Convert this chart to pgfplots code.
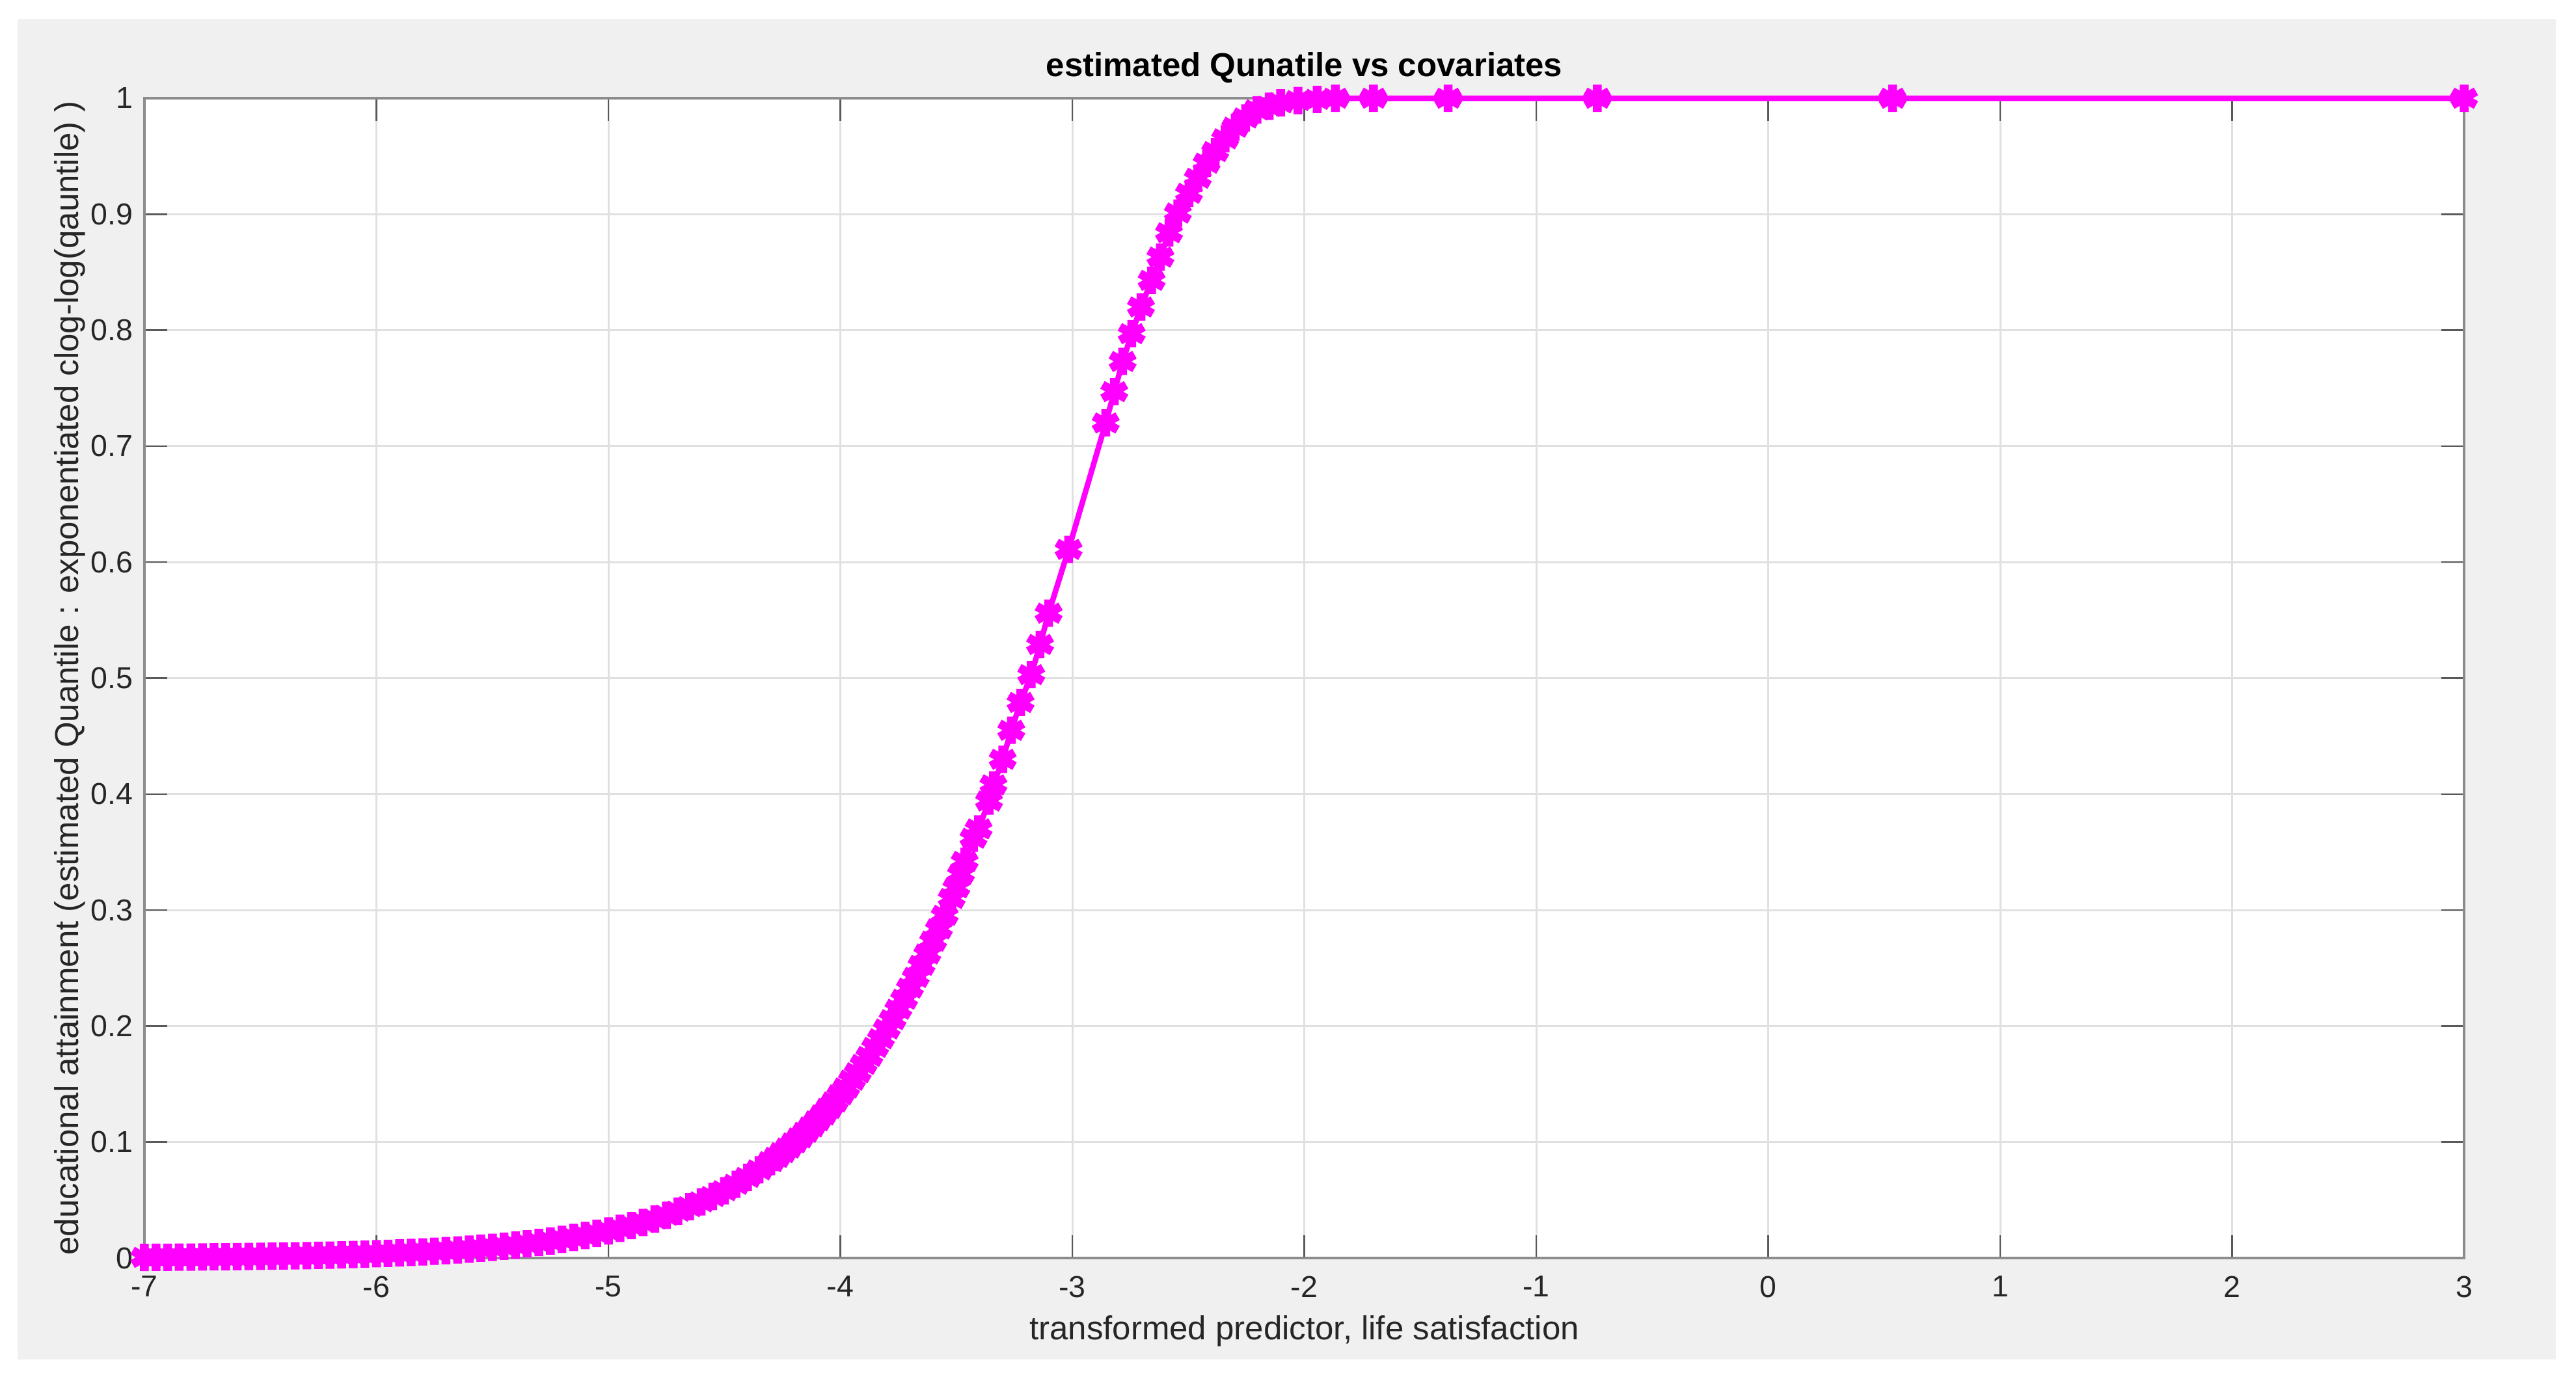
\documentclass[border=0pt]{standalone}
\usepackage{fontspec}
\setmainfont{Liberation Sans}
\usepackage{pgfplots}
\pgfplotsset{compat=1.18}
\definecolor{figbg}{RGB}{240,240,240}
\definecolor{mag}{RGB}{255,0,255}

\begin{document}
\begin{tikzpicture}
% figure window
\fill[white] (-44.4pt,-37pt) rectangle (747.4pt,386.8pt);
\fill[figbg] (-39pt,-31.2pt) rectangle (741.2pt,381pt);
\begin{axis}[
    at={(0pt,0pt)}, anchor=south west,
    width=713pt, height=356.6pt, scale only axis,
    xmin=-7, xmax=3, ymin=0, ymax=1,
    xtick={-7,-6,-5,-4,-3,-2,-1,0,1,2,3},
    ytick={0,0.1,0.2,0.3,0.4,0.5,0.6,0.7,0.8,0.9,1},
    yticklabels={0,0.1,0.2,0.3,0.4,0.5,0.6,0.7,0.8,0.9,1},
    /pgf/number format/assume math mode=true,
    tick label style={font=\fontsize{9.3}{11}\selectfont, color=black!85},
    xticklabel style={yshift=-2pt},
    tick align=inside, major tick length=7pt,
    tick style={color=black!65, line width=0.5pt},
    axis line style={color=black!45, line width=0.9pt},
    axis background/.style={fill=white},
    grid=major, grid style={color=black!12, line width=0.6pt},
    clip=false,
    title={estimated Qunatile vs covariates},
    title style={font=\fontsize{10.2}{12}\selectfont\bfseries,
        at={(axis description cs:0.5,1.0174)}, anchor=base, yshift=-5.6pt},
    xlabel={transformed predictor, life satisfaction},
    xlabel style={font=\fontsize{10.2}{12}\selectfont, color=black!85,
        at={(axis description cs:0.5,-0.0701)}, anchor=base},
    ylabel={educational attainment (estimated Quantile : exponentiated clog-log(qauntile) )},
    ylabel style={font=\fontsize{10.2}{12}\selectfont, color=black!85,
        at={(axis description cs:-0.0286,0.5)}, anchor=base},
]
\addplot[color=mag, line width=1.7pt, mark=asterisk, mark size=4.2pt,
    mark options={solid, line width=2.7pt}] coordinates {
    (-7.00,0.00057) (-6.95,0.00063) (-6.90,0.00069) (-6.85,0.00075)
    (-6.80,0.00083) (-6.75,0.00091) (-6.70,0.00100) (-6.65,0.00109)
    (-6.60,0.00120) (-6.55,0.00132) (-6.50,0.00145) (-6.45,0.00159)
    (-6.40,0.00174) (-6.35,0.00191) (-6.30,0.00210) (-6.25,0.00230)
    (-6.20,0.00253) (-6.15,0.00277) (-6.10,0.00304) (-6.05,0.00334)
    (-6.00,0.00366) (-5.95,0.00402) (-5.90,0.00441) (-5.85,0.00484)
    (-5.80,0.00531) (-5.75,0.00583) (-5.70,0.00639) (-5.65,0.00702)
    (-5.60,0.00770) (-5.55,0.00844) (-5.50,0.00926) (-5.45,0.01016)
    (-5.40,0.01115) (-5.35,0.01223) (-5.30,0.01341) (-5.25,0.01471)
    (-5.20,0.01613) (-5.15,0.01769) (-5.10,0.01940) (-5.05,0.02127)
    (-5.00,0.02332) (-4.95,0.02556) (-4.90,0.02802) (-4.85,0.03071)
    (-4.80,0.03365) (-4.75,0.03687) (-4.70,0.04039) (-4.65,0.04424)
    (-4.60,0.04845) (-4.55,0.05305) (-4.50,0.05806) (-4.45,0.06354)
    (-4.40,0.06952) (-4.35,0.07603) (-4.30,0.08313) (-4.275,0.08678)
    (-4.25,0.09085) (-4.225,0.09481) (-4.20,0.09925) (-4.175,0.10357)
    (-4.15,0.10839) (-4.125,0.11307) (-4.10,0.11830) (-4.075,0.12337)
    (-4.05,0.12906) (-4.025,0.13453) (-4.00,0.14071) (-3.975,0.14664)
    (-3.95,0.15332) (-3.925,0.15972) (-3.90,0.16695) (-3.875,0.17384)
    (-3.85,0.18165) (-3.825,0.18907) (-3.80,0.19748) (-3.775,0.20551)
    (-3.75,0.21450) (-3.725,0.22314) (-3.70,0.23277) (-3.675,0.24199)
    (-3.65,0.25237) (-3.625,0.26217) (-3.60,0.27325) (-3.575,0.28374)
    (-3.55,0.29552) (-3.52,0.3100) (-3.50,0.31919)
    (-3.48,0.3310) (-3.464,0.342) (-3.426,0.362) (-3.404,0.370)
    (-3.359,0.394) (-3.340,0.408) (-3.300,0.430) (-3.263,0.455)
    (-3.223,0.479) (-3.177,0.503) (-3.139,0.529) (-3.102,0.556)
    (-3.016,0.611) (-2.856,0.720) (-2.819,0.747) (-2.783,0.773)
    (-2.744,0.797) (-2.704,0.820) (-2.658,0.843) (-2.620,0.863)
    (-2.583,0.884) (-2.545,0.901) (-2.497,0.918) (-2.459,0.931)
    (-2.421,0.944) (-2.384,0.954) (-2.341,0.965) (-2.298,0.975)
    (-2.253,0.983) (-2.204,0.990) (-2.151,0.993) (-2.102,0.996)
    (-2.027,0.998) (-1.944,0.999) (-1.866,1.000) (-1.702,1.000)
    (-1.380,1.000) (-0.737,1.000) (0.536,1.000) (3.000,1.000)
};
\end{axis}
\end{tikzpicture}
\end{document}
